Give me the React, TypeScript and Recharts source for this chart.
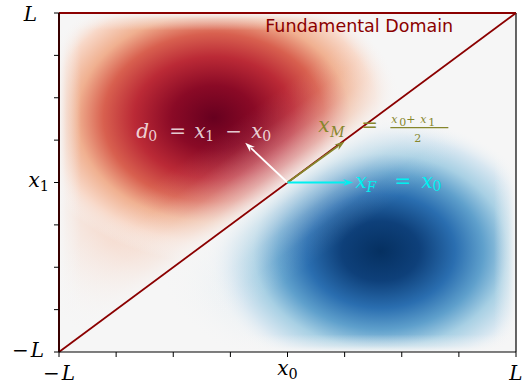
import React from 'react';
import {
  ScatterChart,
  Scatter,
  XAxis,
  YAxis,
  ReferenceArea,
  ReferenceLine,
  ReferenceDot,
} from 'recharts';

// ---------- data ----------
const DOMAIN: [number, number] = [-4, 4];
const X_TICKS = [-4, -3, -2, -1, 0, 1, 2, 3, 4];
const Y_TICKS = [-4, -3, -2, -1, 0, 1, 2, 3, 4];

// tick labels (LaTeX-like): minus sign, italic main symbol, subscript
const X_TICK_VALUES = [-4, 0, 4];
const X_TICK_MAIN = ['L', 'x', 'L'];
const X_TICK_SUB = ['', '0', ''];
const X_TICK_MINUS = [true, false, false];

const Y_TICK_VALUES = [4, 0, -4];
const Y_TICK_MAIN = ['L', 'x', 'L'];
const Y_TICK_SUB = ['', '1', ''];
const Y_TICK_MINUS = [false, false, true];

// heat-map layers (centre & half-extent in data units)
const LAYER_IDS = ['redHalo', 'redCore', 'blueHalo', 'blueCore'];
const LAYER_CX = [-1.8, -1.29, 1.0, 1.63];
const LAYER_CY = [-0.1, 1.53, -2.0, -1.62];
const LAYER_RX = [3.4, 3.33, 3.3, 3.1];
const LAYER_RY = [4.2, 3.42, 2.6, 3.2];
const LAYER_CLIP = ['upperTri', 'upperTri', 'lowerTri', 'lowerTri'];

const CORE_STOPS = [0, 0.22, 0.42, 0.58, 0.72, 0.86, 1];
const CORE_OPACITY = [1, 1, 1, 1, 1, 1, 0];
const RED_CORE = ['#67001f', '#8a0a26', '#bb2a36', '#d8604f', '#f0b090', '#f8d8c8', '#f7f7f7'];
const BLUE_CORE = ['#053061', '#0e407a', '#2a6eb0', '#5fa0cc', '#a8d0e4', '#d8e7f1', '#f7f7f7'];
const HALO_STOPS = [0, 0.5, 1];
const HALO_OPACITY = [0.95, 0.7, 0];
const RED_HALO = ['#f4bea2', '#f6d4c4', '#f7f7f7'];
const BLUE_HALO = ['#b8d6e8', '#d4e5f0', '#f7f7f7'];

// fundamental-domain boundary
const DIAG_START = { x: -4, y: -4 };
const DIAG_END = { x: 4, y: 4 };

// arrows from the origin point
const ARROW_ORIGIN = { x: 0, y: 0 };
const ARROW_END_X = [-0.74, 1.0, 1.15];
const ARROW_END_Y = [0.94, 0.97, 0];
const ARROW_COLORS = ['#ffffff', '#86862c', '#00f0f0'];

// annotation anchors (data units, start of text at baseline)
const TITLE_POS = { x: -0.39, y: 3.54 };
const TITLE_TEXT = 'Fundamental Domain';
const D0_POS = { x: -2.63, y: 1.06 };
const XM_POS = { x: 0.54, y: 1.2 };
const XF_POS = { x: 1.19, y: -0.12 };

// ---------- styling ----------
const MATH_FONT = '"DejaVu Serif", "Liberation Serif", serif';
const DARK_RED = '#8b0000';
const BG = '#f6f6f6';

const X_TICK_DY: Record<string, number> = { '-4': 21, '0': 16, '4': 21 };
const Y_TICK_DY: Record<string, number> = { '4': 8, '0': 4, '-4': 5 };
const Y_TICK_DX: Record<string, number> = { '4': -15, '0': -3, '-4': -8 };

function MathText({ x, y, anchor, minus, main, sub, size, fill }: any) {
  return (
    <text x={x} y={y} textAnchor={anchor} fontFamily={MATH_FONT} fontSize={size} fill={fill}>
      {minus ? <tspan>{'\u2212'}</tspan> : null}
      <tspan fontStyle="italic" dx={minus ? 2 : 0}>{main}</tspan>
      {sub ? (
        <tspan fontSize={size * 0.72} dy={size * 0.22}>
          {sub}
        </tspan>
      ) : null}
    </text>
  );
}

function XTick(props: any) {
  const { x, y, payload } = props;
  const i = X_TICK_VALUES.indexOf(payload.value);
  if (i < 0) return <g />;
  return (
    <MathText
      x={x}
      y={y + X_TICK_DY[String(payload.value)]}
      anchor="middle"
      minus={X_TICK_MINUS[i]}
      main={X_TICK_MAIN[i]}
      sub={X_TICK_SUB[i]}
      size={20}
      fill="#000"
    />
  );
}

function YTick(props: any) {
  const { x, y, payload } = props;
  const i = Y_TICK_VALUES.indexOf(payload.value);
  if (i < 0) return <g />;
  return (
    <MathText
      x={x + Y_TICK_DX[String(payload.value)]}
      y={y + Y_TICK_DY[String(payload.value)]}
      anchor="end"
      minus={Y_TICK_MINUS[i]}
      main={Y_TICK_MAIN[i]}
      sub={Y_TICK_SUB[i]}
      size={20}
      fill="#000"
    />
  );
}

function radial(id: string, colors: string[], stops: number[], opac: number[]) {
  return (
    <radialGradient id={id} cx="0.5" cy="0.5" r="0.5">
      {colors.map((c, k) => (
        <stop key={k} offset={stops[k]} stopColor={c} stopOpacity={opac[k]} />
      ))}
    </radialGradient>
  );
}

function Background(props: any) {
  const { x, y, width, height } = props;
  return (
    <g>
      <defs>
        {radial('redHalo', RED_HALO, HALO_STOPS, HALO_OPACITY)}
        {radial('redCore', RED_CORE, CORE_STOPS, CORE_OPACITY)}
        {radial('blueHalo', BLUE_HALO, HALO_STOPS, HALO_OPACITY)}
        {radial('blueCore', BLUE_CORE, CORE_STOPS, CORE_OPACITY)}
        <clipPath id="upperTri">
          <polygon points={`${x},${y + height} ${x},${y} ${x + width},${y}`} />
        </clipPath>
        <clipPath id="lowerTri">
          <polygon points={`${x},${y + height} ${x + width},${y + height} ${x + width},${y}`} />
        </clipPath>
      </defs>
      <rect x={x} y={y} width={width} height={height} fill={BG} />
    </g>
  );
}

// fades toward zero at the diagonal and at the outer edges
function Fades(props: any) {
  const { x, y, width: w, height: h } = props;
  const n = Math.sqrt(w * w + h * h);
  const nx = -h / n;
  const ny = -w / n;
  const mx = x + w / 2;
  const my = y + h / 2;
  const D = 80;
  const E = 22;
  const lin = (id: string, x1: number, y1: number, x2: number, y2: number, ops: number[], stops: number[]) => (
    <linearGradient id={id} gradientUnits="userSpaceOnUse" x1={x1} y1={y1} x2={x2} y2={y2}>
      {ops.map((o, k) => (
        <stop key={k} offset={stops[k]} stopColor={BG} stopOpacity={o} />
      ))}
    </linearGradient>
  );
  const dOps = [0.9, 0.55, 0.25, 0.07, 0];
  const dSt = [0, 0.2, 0.45, 0.7, 1];
  const eOps = [1, 0.5, 0];
  const eSt = [0, 0.35, 1];
  return (
    <g>
      <defs>
        {lin('diagUp', mx, my, mx + nx * D, my + ny * D, dOps, dSt)}
        {lin('diagDown', mx, my, mx - nx * D, my - ny * D, dOps, dSt)}
        {lin('edgeL', x, 0, x + E, 0, eOps, eSt)}
        {lin('edgeR', x + w, 0, x + w - E, 0, eOps, eSt)}
        {lin('edgeT', 0, y, 0, y + E * 0.8, eOps, eSt)}
        {lin('edgeB', 0, y + h, 0, y + h - E * 0.8, eOps, eSt)}
      </defs>
      <rect x={x} y={y} width={w} height={h} fill="url(#diagUp)" clipPath="url(#upperTri)" />
      <rect x={x} y={y} width={w} height={h} fill="url(#diagDown)" clipPath="url(#lowerTri)" />
      <rect x={x} y={y} width={E} height={h} fill="url(#edgeL)" />
      <rect x={x + w - E} y={y} width={E} height={h} fill="url(#edgeR)" />
      <rect x={x} y={y} width={w} height={E * 0.8} fill="url(#edgeT)" />
      <rect x={x} y={y + h - E * 0.8} width={w} height={E * 0.8} fill="url(#edgeB)" />
    </g>
  );
}

function layerShape(k: number) {
  return (props: any) => {
    const { x, y, width, height } = props;
    return (
      <rect
        x={x}
        y={y}
        width={width}
        height={height}
        fill={`url(#${LAYER_IDS[k]})`}
        clipPath={`url(#${LAYER_CLIP[k]})`}
      />
    );
  };
}

function arrowShape(color: string) {
  return (props: any) => {
    const { x1, y1, x2, y2 } = props;
    if (![x1, y1, x2, y2].every((v) => typeof v === 'number')) return <g />;
    const a = Math.atan2(y2 - y1, x2 - x1);
    const len = 10;
    const half = 3.5;
    const bx = x2 - len * Math.cos(a);
    const by = y2 - len * Math.sin(a);
    const px = -Math.sin(a) * half;
    const py = Math.cos(a) * half;
    return (
      <g>
        <line x1={x1} y1={y1} x2={bx + 2 * Math.cos(a)} y2={by + 2 * Math.sin(a)} stroke={color} strokeWidth={1.8} />
        <polygon
          points={`${x2},${y2} ${bx + px},${by + py} ${bx + 3 * Math.cos(a)},${by + 3 * Math.sin(a)} ${bx - px},${by - py}`}
          fill={color}
        />
      </g>
    );
  };
}

function TitleShape(props: any) {
  const { cx, cy } = props;
  return (
    <text x={cx} y={cy} fontFamily='"DejaVu Sans", sans-serif' fontSize={17.5} fill={DARK_RED}>
      {TITLE_TEXT}
    </text>
  );
}

// piece: [text, dx from anchor, dy from baseline, italic, small]
type Piece = [string, number, number, boolean, boolean];

function Pieces({ cx, cy, pieces, fill, size, small, opacity }: any) {
  return (
    <g fontFamily={MATH_FONT} fill={fill} fillOpacity={opacity}>
      {(pieces as Piece[]).map((p, k) => (
        <text
          key={k}
          x={cx + p[1]}
          y={cy + p[2]}
          fontSize={p[4] ? small : size}
          fontStyle={p[3] ? 'italic' : 'normal'}
        >
          {p[0]}
        </text>
      ))}
    </g>
  );
}

const D0_PIECES: Piece[] = [
  ['d', -1, 0, true, false],
  ['0', 11, 3, false, true],
  ['=', 32, 0, false, false],
  ['x', 57, 0, true, false],
  ['1', 68, 3, false, true],
  ['\u2212', 88, 0, false, false],
  ['x', 114, 0, true, false],
  ['0', 125, 3, false, true],
];

const XM_PIECES: Piece[] = [
  ['x', 0, 0, true, false],
  ['M', 12, 5, true, true],
  ['=', 43, 0, false, false],
  ['x', 73, -9, true, true],
  ['0', 81, -6, false, true],
  ['+', 88, -9, false, true],
  ['x', 102, -9, true, true],
  ['1', 110, -6, false, true],
  ['2', 96, 10, false, true],
];

const XF_PIECES: Piece[] = [
  ['x', 0, 0, true, false],
  ['F', 11, 4, true, true],
  ['=', 39, 0, false, false],
  ['x', 66, 0, true, false],
  ['0', 77, 3, false, true],
];

function D0Shape(props: any) {
  return <Pieces cx={props.cx} cy={props.cy} pieces={D0_PIECES} fill="#ffffff" opacity={0.8} size={20} small={14} />;
}

function XMShape(props: any) {
  const { cx, cy } = props;
  const col = ARROW_COLORS[1];
  return (
    <g>
      <Pieces cx={cx} cy={cy} pieces={XM_PIECES.slice(0, 3)} fill={col} opacity={1} size={20} small={14} />
      <Pieces cx={cx} cy={cy} pieces={XM_PIECES.slice(3)} fill={col} opacity={1} size={16} small={11} />
      <line x1={cx + 72} y1={cy - 4} x2={cx + 130} y2={cy - 4} stroke={col} strokeWidth={1.1} />
    </g>
  );
}

function XFShape(props: any) {
  return <Pieces cx={props.cx} cy={props.cy} pieces={XF_PIECES} fill={ARROW_COLORS[2]} opacity={1} size={20} small={14} />;
}

const nothing = () => <g />;

export default function App() {
  return (
    <div style={{ position: 'absolute', left: 0, top: 0, background: '#fff' }}>
      <ScatterChart width={522} height={385} margin={{ top: 13, right: 6, bottom: 3, left: 0 }}>
        <XAxis
          type="number"
          dataKey="x"
          domain={DOMAIN}
          ticks={X_TICKS}
          allowDataOverflow
          interval={0}
          height={30}
          tickSize={5}
          tick={<XTick />}
          axisLine={{ stroke: '#000', strokeWidth: 1.2 }}
          tickLine={{ stroke: '#000', strokeWidth: 1 }}
        />
        <YAxis
          type="number"
          dataKey="y"
          domain={DOMAIN}
          ticks={Y_TICKS}
          allowDataOverflow
          interval={0}
          width={59}
          tickSize={5}
          tick={<YTick />}
          axisLine={{ stroke: '#000', strokeWidth: 1.2 }}
          tickLine={{ stroke: '#000', strokeWidth: 1 }}
        />
        <ReferenceArea x1={DOMAIN[0]} x2={DOMAIN[1]} y1={DOMAIN[0]} y2={DOMAIN[1]} ifOverflow="visible" shape={<Background />} />
        {LAYER_IDS.map((id, k) => (
          <ReferenceArea
            key={id}
            x1={LAYER_CX[k] - LAYER_RX[k]}
            x2={LAYER_CX[k] + LAYER_RX[k]}
            y1={LAYER_CY[k] - LAYER_RY[k]}
            y2={LAYER_CY[k] + LAYER_RY[k]}
            ifOverflow="visible"
            shape={layerShape(k)}
          />
        ))}
        <ReferenceArea x1={DOMAIN[0]} x2={DOMAIN[1]} y1={DOMAIN[0]} y2={DOMAIN[1]} ifOverflow="visible" shape={<Fades />} />
        <ReferenceLine x={DOMAIN[1]} stroke="#000" strokeWidth={1.2} ifOverflow="visible" />
        <ReferenceLine x={DOMAIN[0]} stroke={DARK_RED} strokeWidth={2} ifOverflow="visible" />
        <ReferenceLine y={DOMAIN[1]} stroke={DARK_RED} strokeWidth={2.2} ifOverflow="visible" />
        <ReferenceLine segment={[DIAG_START, DIAG_END]} stroke={DARK_RED} strokeWidth={1.8} ifOverflow="visible" />
        {ARROW_END_X.map((ex, k) => (
          <ReferenceLine
            key={k}
            segment={[ARROW_ORIGIN, { x: ex, y: ARROW_END_Y[k] }]}
            ifOverflow="visible"
            shape={arrowShape(ARROW_COLORS[k])}
          />
        ))}
        <ReferenceDot x={TITLE_POS.x} y={TITLE_POS.y} r={0} ifOverflow="visible" shape={<TitleShape />} />
        <ReferenceDot x={D0_POS.x} y={D0_POS.y} r={0} ifOverflow="visible" shape={<D0Shape />} />
        <ReferenceDot x={XM_POS.x} y={XM_POS.y} r={0} ifOverflow="visible" shape={<XMShape />} />
        <ReferenceDot x={XF_POS.x} y={XF_POS.y} r={0} ifOverflow="visible" shape={<XFShape />} />
        <Scatter data={[ARROW_ORIGIN]} isAnimationActive={false} shape={nothing} />
      </ScatterChart>
    </div>
  );
}
